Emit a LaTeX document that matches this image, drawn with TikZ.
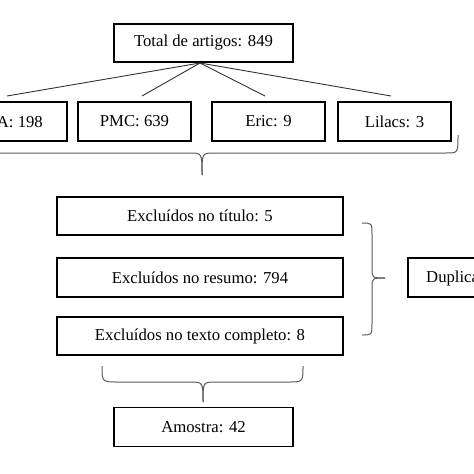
\documentclass[tikz,border=0pt]{standalone}
\usepackage{fontspec}
\setmainfont{Liberation Serif}
\begin{document}
\begin{tikzpicture}[x=1pt,y=-1pt,
  txt/.style={font=\fontsize{16.7}{19}\selectfont},
  box/.style={draw=black,line width=1.4pt,inner sep=0pt,minimum height=38pt,txt},
  link/.style={draw=black!80,line width=0.9pt},
  brace/.style={draw=black!65,line width=1pt}]
\useasboundingbox (0,0) rectangle (474,474);
\clip (0,0) rectangle (474,474);
\node[box,minimum width=179pt] (total) at (203.5,43) {Total de artigos: 849};
\node[box,minimum width=113pt,minimum height=39pt] (a) at (10.5,121.5) {};
\node[txt,anchor=east,inner sep=0pt] (atxt) at (43,122) {A: 198};
\node[box,minimum width=113pt,minimum height=39pt] (pmc) at (134.5,121.5) {PMC: 639};
\node[box,minimum width=113pt,minimum height=39pt] (eric) at (268.5,121.5) {Eric: 9};
\node[box,minimum width=113pt,minimum height=39pt] (lilacs) at (394.5,121.5) {Lilacs: 3};
\coordinate (src) at (200,63);
\coordinate (ea) at (7,96);
\coordinate (epmc) at (142,96);
\coordinate (eeric) at (265,96);
\coordinate (elil) at (391,96);
\draw[link] (src) -- (ea);
\draw[link] (src) -- (epmc);
\draw[link] (src) -- (eeric);
\draw[link] (src) -- (elil);
% top brace
\draw[brace] (-20,153) -- (190,153) .. controls (202,153) .. (202,175);
\draw[brace] (202,175) .. controls (202,153) .. (214,153) -- (446,153) .. controls (458,153) .. (458,135);
\node[box,minimum width=286pt] (ex1) at (200,216) {Excluídos no título: 5};
\node[box,minimum width=286pt,minimum height=39pt] (ex2) at (200,277.5) {Excluídos no resumo: 794};
\node[box,minimum width=286pt] (ex3) at (200,336) {Excluídos no texto completo: 8};
% right brace
\draw[brace] (362,223) .. controls (372,223) .. (372,235) -- (372,268) .. controls (372,278) .. (385,278);
\draw[brace] (385,278) .. controls (372,278) .. (372,288) -- (372,323) .. controls (372,335) .. (362,335);
\node[box,minimum width=113pt,minimum height=39pt] (dup) at (464.5,277.5) {};
\node[txt,anchor=west,inner sep=0pt] (duptxt) at (426,278) {Duplica};
% bottom brace
\draw[brace] (102,366) .. controls (102,382) .. (118,382) -- (190,382) .. controls (203,382) .. (203,402);
\draw[brace] (203,402) .. controls (203,382) .. (216,382) -- (288,382) .. controls (303,382) .. (303,366);
\node[box,minimum width=179pt,minimum height=39pt] (am) at (203.5,427) {Amostra: 42};
\end{tikzpicture}
\end{document}
